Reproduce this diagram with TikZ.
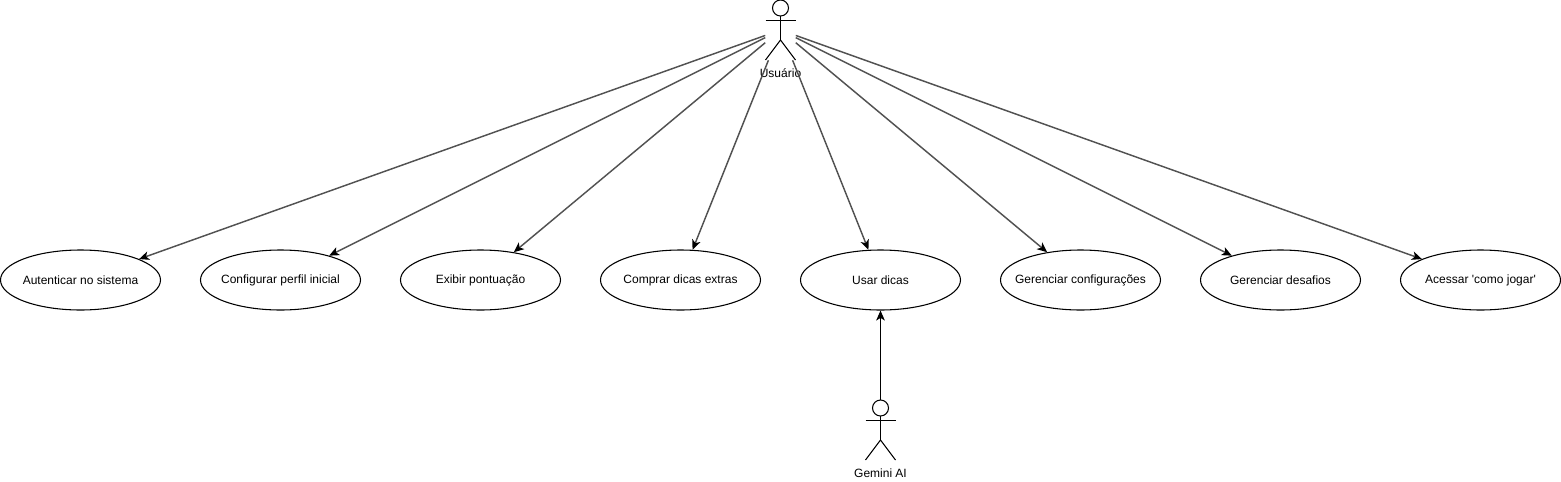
\documentclass[tikz,border=0pt]{standalone}
\usepackage{fontspec}
\setmainfont{Liberation Sans}
\usetikzlibrary{arrows.meta, shapes.geometric}
\tikzset{
  usecase/.style={draw, ellipse, minimum width=120pt, minimum height=45pt, inner ysep=0pt, inner xsep=-15pt, line width=0.8pt, font=\fontsize{9}{11}\selectfont},
  actorbox/.style={minimum width=22.5pt, minimum height=45pt, inner sep=0pt},
  actorname/.style={inner sep=0pt, font=\fontsize{9}{11}\selectfont},
  assoc/.style={-{Stealth[length=7.5pt, width=6.5pt, inset=2pt, black]}, black!68, line width=1.1pt},
  actorfig/.pic={
    \draw[line width=0.8pt] (0,-22) circle (6pt);
    \draw[line width=0.8pt] (0,-14) -- (0,10);
    \draw[line width=0.8pt] (-15,-9.5) -- (15,-9.5);
    \draw[line width=0.8pt] (-15,30) -- (0,10) -- (15,30);
  }
}
\begin{document}
\begin{tikzpicture}[x=0.75pt, y=-0.75pt]
  \useasboundingbox (0,0) rectangle (1561,482);
  % Actors
  \node[actorbox] (usuario) at (780.5,30) {};
  \pic at (usuario) {actorfig};
  \node[actorname] (usuariolabel) at (780.5,73.5) {Usuário};
  \node[actorbox] (gemini) at (880.5,430) {};
  \pic at (gemini) {actorfig};
  \node[actorname] (geminilabel) at (880.5,473.5) {Gemini AI};
  % Use cases
  \node[usecase] (autenticar) at (80.5,280) {Autenticar no sistema};
  \node[usecase] (perfil) at (280.5,280) {Configurar perfil inicial};
  \node[usecase] (pontuacao) at (480.5,280) {Exibir pontuação};
  \node[usecase] (comprar) at (680.5,280) {Comprar dicas extras};
  \node[usecase] (usar) at (880.5,280) {Usar dicas};
  \node[usecase] (config) at (1080.5,280) {Gerenciar configurações};
  \node[usecase] (desafios) at (1280.5,280) {Gerenciar desafios};
  \node[usecase] (comojogar) at (1480.5,280) {Acessar \textquotesingle como jogar\textquotesingle};
  % Associations
  \foreach \target in {autenticar, perfil, pontuacao, comprar, usar, config, desafios, comojogar}
    \draw[assoc] (usuario) -- (\target);
  \draw[assoc, black, line width=0.8pt] (gemini) -- (usar);
\end{tikzpicture}
\end{document}
